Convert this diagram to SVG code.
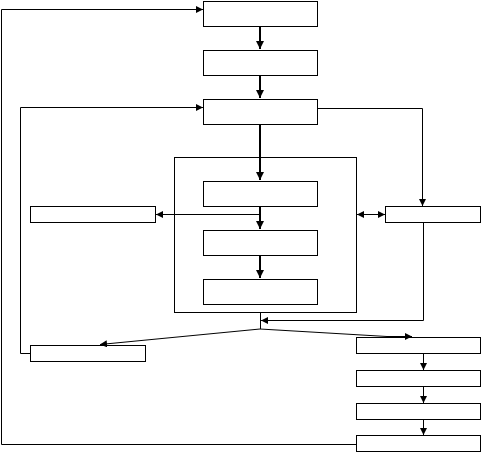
<svg xmlns="http://www.w3.org/2000/svg" width="482" height="453" viewBox="0 0 482 453">
<defs>
<style>
.box{fill:#fff;stroke:#000;stroke-width:1}
.ln{fill:none;stroke:#000;stroke-width:1}
.th{fill:none;stroke:#000;stroke-width:2}
</style>
<marker id="ah" viewBox="0 0 8 8" refX="8" refY="4" markerWidth="7" markerHeight="7" markerUnits="userSpaceOnUse" orient="auto-start-reverse">
<path d="M0,0 L8,4 L0,8 Z" fill="#000"/>
</marker>
<marker id="ahs" viewBox="0 0 8 8" refX="8" refY="4" markerWidth="4" markerHeight="4" orient="auto-start-reverse">
<path d="M0,0 L8,4 L0,8 Z" fill="#000"/>
</marker>
</defs>
<rect width="482" height="453" fill="#fff"/>
<g id="container"><rect class="box" x="174.5" y="157.5" width="182" height="155"/></g>
<g id="n1"><rect class="box" x="203.5" y="1.5" width="114" height="25"/></g>
<g id="n2"><rect class="box" x="203.5" y="50.5" width="114" height="25"/></g>
<g id="n3"><rect class="box" x="203.5" y="99.5" width="114" height="25"/></g>
<g id="n4"><rect class="box" x="203.5" y="181.5" width="114" height="25"/></g>
<g id="n5"><rect class="box" x="203.5" y="230.5" width="114" height="25"/></g>
<g id="n6"><rect class="box" x="203.5" y="279.5" width="114" height="25"/></g>
<g id="l1"><rect class="box" x="30.5" y="206.5" width="125" height="16"/></g>
<g id="r1"><rect class="box" x="385.5" y="206.5" width="95" height="16"/></g>
<g id="l2"><rect class="box" x="30.5" y="345.5" width="115" height="16"/></g>
<g id="r2"><rect class="box" x="356.5" y="337.5" width="124" height="16"/></g>
<g id="r3"><rect class="box" x="356.5" y="370.5" width="124" height="16"/></g>
<g id="r4"><rect class="box" x="356.5" y="403.5" width="124" height="16"/></g>
<g id="r5"><rect class="box" x="356.5" y="435.5" width="124" height="16"/></g>
<g id="connectors">
<path class="th" d="M260,26 V49" marker-end="url(#ahs)"/>
<path class="th" d="M260,75 V98" marker-end="url(#ahs)"/>
<path class="th" d="M260,124 V180" marker-end="url(#ahs)"/>
<path class="th" d="M260,206 V229" marker-end="url(#ahs)"/>
<path class="th" d="M260,255 V278" marker-end="url(#ahs)"/>
<path class="ln" d="M260,214.5 H156" marker-end="url(#ah)"/>
<path class="ln" d="M357,214.5 H385" marker-start="url(#ah)" marker-end="url(#ah)"/>
<path class="ln" d="M317,108.5 H422.5 V206" marker-end="url(#ah)"/>
<path class="ln" d="M423.5,222 V320.5 H261" marker-end="url(#ah)"/>
<path class="ln" d="M260.5,312 V329"/>
<path class="ln" d="M260,329 L100,344.5" marker-end="url(#ah)"/>
<path class="ln" d="M260,329 L387,336.5 H412" marker-end="url(#ah)"/>
<path class="ln" d="M423.5,353 V370" marker-end="url(#ah)"/>
<path class="ln" d="M423.5,386 V403" marker-end="url(#ah)"/>
<path class="ln" d="M423.5,419 V435" marker-end="url(#ah)"/>
<path class="ln" d="M356,444.5 H1.5 V9.5 H203" marker-end="url(#ah)"/>
<path class="ln" d="M30,353.5 H20.5 V107.5 H203" marker-end="url(#ah)"/>
</g>
</svg>
